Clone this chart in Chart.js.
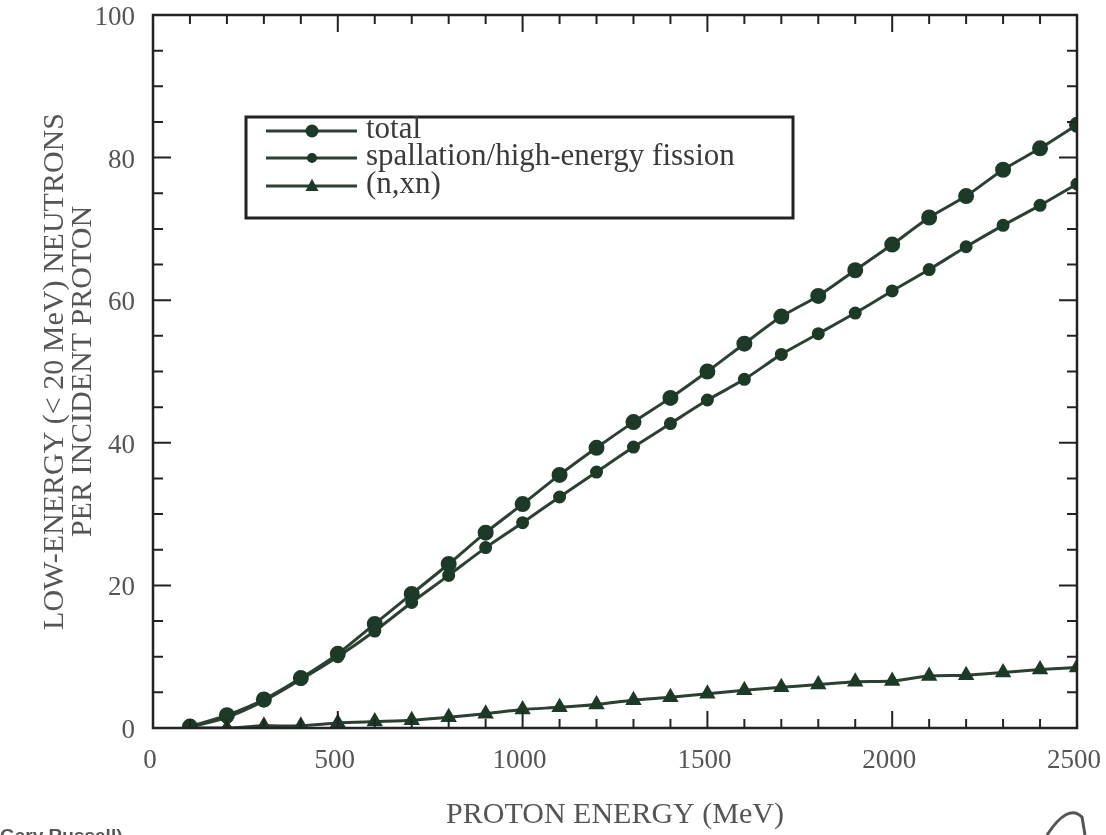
<!DOCTYPE html>
<html>
<head>
<meta charset="utf-8">
<script src="https://cdn.jsdelivr.net/npm/chart.js@4.4.0/dist/chart.umd.min.js"></script>
<style>
html, body { margin: 0; padding: 0; background: #fff; }
#wrap { position: relative; width: 1106px; height: 835px; overflow: hidden; }
#credit { position: absolute; left: 0; top: 825px; font: bold 19px "Liberation Sans", Arial, sans-serif; color: #555; white-space: nowrap; }
#sig { position: absolute; left: 1030px; top: 795px; }
</style>
</head>
<body>
<div id="wrap">
    <canvas id="chart" width="1106" height="835"></canvas>
    <div id="credit">Gary Russell)</div>
    <svg id="sig" width="76" height="40"><path d="M 17 40 Q 38 8 52 22 L 55 40" fill="none" stroke="#555" stroke-width="3"/></svg>
</div>
<script>
// proton energy (MeV)
const energies = [100, 200, 300, 400, 500, 600, 700, 800, 900, 1000, 1100, 1200, 1300,
    1400, 1500, 1600, 1700, 1800, 1900, 2000, 2100, 2200, 2300, 2400, 2500];

// low-energy neutrons per incident proton
const totalYield = [0.2, 1.8, 4.0, 7.0, 10.4, 14.6, 18.8, 23.0, 27.4, 31.4, 35.5, 39.3, 42.9,
    46.3, 50.0, 53.9, 57.7, 60.6, 64.2, 67.8, 71.6, 74.6, 78.3, 81.3, 84.6];
const spallationYield = [0.1, 1.5, 3.8, 6.8, 10.0, 13.6, 17.6, 21.4, 25.3, 28.8, 32.4, 35.9, 39.4,
    42.7, 46.0, 48.9, 52.4, 55.3, 58.2, 61.3, 64.3, 67.5, 70.5, 73.3, 76.3];
const nxnYield = [0, 0, 0.3, 0.3, 0.7, 0.9, 1.1, 1.5, 2.0, 2.6, 2.9, 3.3, 3.9,
    4.3, 4.8, 5.3, 5.7, 6.1, 6.5, 6.6, 7.3, 7.4, 7.8, 8.2, 8.5];

const seriesLabels = ['total', 'spallation/high-energy fission', '(n,xn)'];
const xTickValues = [0, 500, 1000, 1500, 2000, 2500];
const yTickValues = [0, 20, 40, 60, 80, 100];

const LINE_COLOR = '#2a4033';
const MARK_COLOR = '#1c3a27';
const FRAME_COLOR = '#222';
const SERIF = '"Liberation Serif", "Times New Roman", serif';

function toPoints(ys) {
    return energies.map((e, i) => ({ x: e, y: ys[i] }));
}

function makeDataset(label, ys, style, radius) {
    return {
        label: label,
        data: toPoints(ys),
        borderColor: LINE_COLOR,
        borderWidth: 3,
        backgroundColor: MARK_COLOR,
        pointBackgroundColor: MARK_COLOR,
        pointBorderColor: MARK_COLOR,
        pointStyle: style,
        pointRadius: radius,
        tension: 0.25,
        fill: false
    };
}

function drawMarker(ctx, style, r, x, y) {
    ctx.beginPath();
    if (style === 'triangle') {
        ctx.moveTo(x, y - r * 1.1);
        ctx.lineTo(x + r, y + r * 0.75);
        ctx.lineTo(x - r, y + r * 0.75);
        ctx.closePath();
    } else {
        ctx.arc(x, y, r, 0, Math.PI * 2);
    }
    ctx.fill();
}

// keep the plot box where the reference has it, whatever the labels overhang
function noOverhang(s) {
    s.paddingTop = 0;
    s.paddingBottom = 0;
    s.paddingLeft = 0;
    s.paddingRight = 0;
}

// box around the plot with inward ticks on all four sides
const frameTicks = {
    id: 'frameTicks',
    afterDatasetsDraw(chart) {
        const { ctx, chartArea: a, scales: { x, y } } = chart;
        ctx.save();
        ctx.strokeStyle = FRAME_COLOR;
        ctx.lineWidth = 2.5;
        ctx.strokeRect(a.left, a.top, a.right - a.left, a.bottom - a.top);
        ctx.lineWidth = 2;
        ctx.beginPath();
        for (let v = 0; v <= 2500; v += 100) {
            const px = x.getPixelForValue(v);
            const len = v % 500 === 0 ? 17 : 9;
            ctx.moveTo(px, a.bottom); ctx.lineTo(px, a.bottom - len);
            ctx.moveTo(px, a.top); ctx.lineTo(px, a.top + len);
        }
        for (let v = 0; v <= 100; v += 5) {
            const py = y.getPixelForValue(v);
            const len = v % 20 === 0 ? 18 : 10;
            ctx.moveTo(a.left, py); ctx.lineTo(a.left + len, py);
            ctx.moveTo(a.right, py); ctx.lineTo(a.right - len, py);
        }
        ctx.stroke();
        ctx.restore();
    }
};

// legend box inside the plot
const boxLegend = {
    id: 'boxLegend',
    afterDraw(chart) {
        const ctx = chart.ctx;
        const box = { left: 246, top: 117, right: 793, bottom: 218 };
        const rows = [131, 158, 186];
        ctx.save();
        ctx.fillStyle = '#fff';
        ctx.fillRect(box.left, box.top, box.right - box.left, box.bottom - box.top);
        ctx.strokeStyle = FRAME_COLOR;
        ctx.lineWidth = 3;
        ctx.strokeRect(box.left, box.top, box.right - box.left, box.bottom - box.top);
        ctx.font = '31px ' + SERIF;
        ctx.textBaseline = 'middle';
        chart.data.datasets.forEach((ds, i) => {
            const yy = rows[i];
            ctx.strokeStyle = LINE_COLOR;
            ctx.lineWidth = 3;
            ctx.beginPath();
            ctx.moveTo(266, yy);
            ctx.lineTo(357, yy);
            ctx.stroke();
            ctx.fillStyle = MARK_COLOR;
            drawMarker(ctx, ds.pointStyle, ds.pointRadius, 312, yy);
            ctx.fillStyle = '#3a3a3a';
            ctx.fillText(ds.label, 366, yy - 1);
        });
        ctx.restore();
    }
};

const ctx = document.getElementById('chart').getContext('2d');

new Chart(ctx, {
    type: 'line',
    data: {
        datasets: [
            makeDataset(seriesLabels[0], totalYield, 'circle', 6.5),
            makeDataset(seriesLabels[1], spallationYield, 'circle', 5),
            makeDataset(seriesLabels[2], nxnYield, 'triangle', 6.5)
        ]
    },
    options: {
        responsive: false,
        animation: false,
        layout: {
            padding: { left: 0, right: 29, top: 15, bottom: 0 }
        },
        scales: {
            x: {
                type: 'linear',
                min: 0,
                max: 2500,
                afterBuildTicks: s => { s.ticks = xTickValues.map(v => ({ value: v })); },
                afterFit: s => { s.height = 107; noOverhang(s); },
                grid: { display: false, drawTicks: false },
                border: { display: false },
                ticks: {
                    padding: 17,
                    labelOffset: -3,
                    color: '#555',
                    callback: v => String(v),
                    font: { family: SERIF, size: 27 }
                },
                title: {
                    display: true,
                    text: 'PROTON ENERGY (MeV)',
                    color: '#555',
                    font: { family: SERIF, size: 30, lineHeight: 1 },
                    padding: { top: 0, bottom: 5 }
                }
            },
            y: {
                min: 0,
                max: 100,
                afterBuildTicks: s => { s.ticks = yTickValues.map(v => ({ value: v })); },
                afterFit: s => { s.width = 153; noOverhang(s); },
                grid: { display: false, drawTicks: false },
                border: { display: false },
                ticks: {
                    padding: 18,
                    labelOffset: 3,
                    color: '#555',
                    callback: v => String(v),
                    font: { family: SERIF, size: 27 }
                },
                title: {
                    display: true,
                    text: ['LOW-ENERGY (< 20 MeV) NEUTRONS', 'PER INCIDENT PROTON'],
                    color: '#555',
                    font: { family: SERIF, size: 30, lineHeight: 0.93 },
                    padding: { top: 41, bottom: 0 }
                }
            }
        },
        plugins: {
            legend: { display: false },
            tooltip: { enabled: false }
        }
    },
    plugins: [frameTicks, boxLegend]
});
</script>
</body>
</html>
